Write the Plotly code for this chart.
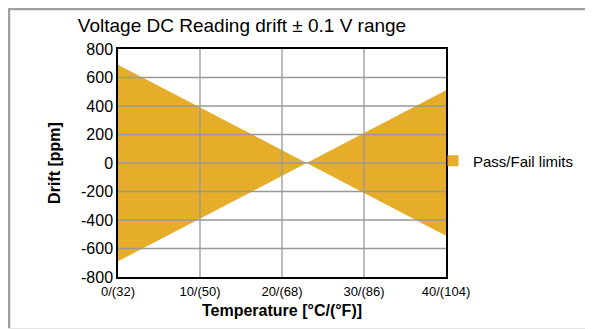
import plotly.graph_objects as go

# Data
temps_c = [0, 23, 40]
limit_ppm = [690, 0, 510]
x_tick_vals = [0, 10, 20, 30, 40]
x_tick_text = ["0/(32)", "10/(50)", "20/(68)", "30/(86)", "40/(104)"]
y_tick_vals = [-800, -600, -400, -200, 0, 200, 400, 600, 800]
y_tick_text = ["-800", "-600", "-400", "-200", "0", "200", "400", "600", "800"]

xs = temps_c + temps_c[::-1]
ys = limit_ppm + [-v for v in limit_ppm[::-1]]

# Figure is offset by the page's 8px body margin
W, H = 585, 321
L, R, T, B = 110, 147, 41, 52
pw, ph = W - L - R, H - T - B

def px_x(p):
    return (p - L) / pw

def px_y(p):
    return (H - B - p) / ph

FILL = "#E6AD2A"
GRID = "#999999"
FRAME = "#a0a0a0"

fig = go.Figure()
fig.add_trace(go.Scatter(
    x=xs, y=ys, mode="lines", fill="toself",
    fillcolor=FILL, line=dict(width=0, color=FILL),
    name="Pass/Fail limits", hoverinfo="skip", showlegend=False,
))
fig.add_trace(go.Scatter(
    x=[None], y=[None], mode="markers",
    marker=dict(symbol="square", size=11, color=FILL),
    name="Pass/Fail limits", showlegend=True,
))

shapes = []
for xv in x_tick_vals[1:-1]:
    shapes.append(dict(type="line", xref="x", yref="y", x0=xv, x1=xv,
                       y0=y_tick_vals[0], y1=y_tick_vals[-1],
                       line=dict(color=GRID, width=1.3), layer="above"))
for yv in y_tick_vals[1:-1]:
    shapes.append(dict(type="line", xref="x", yref="y", x0=x_tick_vals[0], x1=x_tick_vals[-1],
                       y0=yv, y1=yv,
                       line=dict(color=GRID, width=1.3), layer="above"))
# outer frame (left, top, bottom edges)
shapes.append(dict(type="line", xref="paper", yref="paper",
                   x0=px_x(1), x1=px_x(1), y0=px_y(321), y1=px_y(0),
                   line=dict(color=FRAME, width=2.5), layer="below"))
shapes.append(dict(type="line", xref="paper", yref="paper",
                   x0=px_x(0), x1=px_x(W), y0=px_y(1), y1=px_y(1),
                   line=dict(color=FRAME, width=2.5), layer="below"))
shapes.append(dict(type="line", xref="paper", yref="paper",
                   x0=px_x(0), x1=px_x(W), y0=px_y(320.5), y1=px_y(320.5),
                   line=dict(color="#e4e4e4", width=1), layer="below"))

fig.update_layout(
    width=W, height=H,
    margin=dict(l=L, r=R, t=T, b=B),
    paper_bgcolor="white", plot_bgcolor="white",
    font=dict(family="Liberation Sans, Arial, sans-serif", color="black", size=13),
    title=dict(text="Voltage DC Reading drift ± 0.1 V range",
               x=234 / W, xanchor="center",
               y=1 - 17 / H, yanchor="middle",
               font=dict(size=19, color="black")),
    showlegend=True,
    legend=dict(x=px_x(425), y=px_y(153), xanchor="left", yanchor="middle",
                font=dict(size=15), bgcolor="rgba(0,0,0,0)"),
    xaxis=dict(range=[0, 40], tickvals=x_tick_vals, ticktext=x_tick_text,
               showgrid=False, showline=True, linecolor="black", linewidth=1.5, mirror=True,
               zeroline=False, ticks="", tickfont=dict(size=13), ticklabelstandoff=2,
               title=dict(text="<b>Temperature [°C/(°F)]</b>", font=dict(size=16), standoff=6),
               layer="above traces"),
    yaxis=dict(range=[-800, 800], tickvals=y_tick_vals, ticktext=y_tick_text,
               showgrid=False, showline=True, linecolor="black", linewidth=1.5, mirror=True,
               zeroline=False, ticks="", tickfont=dict(size=16), ticklabelstandoff=0,
               title=dict(text="<b>Drift [ppm]</b>", font=dict(size=16), standoff=16),
               layer="above traces"),
    shapes=shapes,
)

fig.write_html("out.html")
